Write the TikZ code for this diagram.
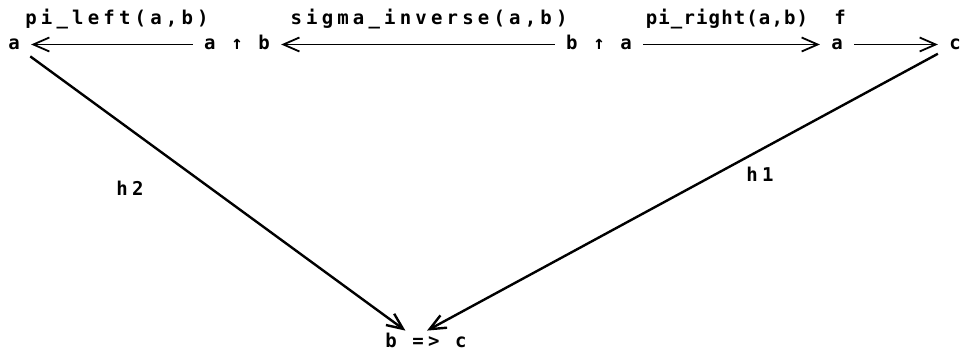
\documentclass[tikz,border=0pt]{standalone}
\usepackage{fontspec}
\setmonofont{DejaVu Sans Mono}[LetterSpace=22]
\usetikzlibrary{arrows.meta}

\begin{document}
\begin{tikzpicture}[x=0.5pt, y=-0.5pt, obj/.style={font=\fontsize{9.5}{11}\ttfamily\bfseries, inner xsep=5.5pt, inner ysep=3pt, text height=5.5pt, text depth=0pt, anchor=base}, lbl/.style={font=\fontsize{9.5}{11}\ttfamily\bfseries, inner sep=0pt, anchor=base}, mor/.style={-{Straight Barb[length=8pt,width=7pt,line width=0.9pt]}, line width=0.7pt}, diag/.style={-{Straight Barb[length=8pt,width=7pt]}, line width=1.2pt}]
\useasboundingbox (0,0) rectangle (970,352);
% objects
\node[obj] (aL) at (14,50) {a};
\node[obj] (aub) at (237,50) {a ↑ b};
\node[obj] (bua) at (599,50) {b ↑ a};
\node[obj] (aR) at (837,50) {a};
\node[obj] (cR) at (955,50) {c};
\node[obj] (bc) at (426,348) {b => c};
% labels
\node[lbl] (piL) at (117,25) {pi\_left(a,b)};
\node[lbl] (sigInv) at (429,25) {sigma\_inverse(a,b)};
\node[lbl] (piR) at (727,25) {\addfontfeature{LetterSpace=6}pi\_right(a,b)};
\node[lbl] (fL) at (840,25) {f};
\node[lbl] (hTwo) at (130,196) {h2};
\node[lbl] (hOne) at (760,182) {h1};
% arrows
\draw[mor] (aub) -- (aL);
\draw[mor] (bua) -- (aub);
\draw[mor] (bua) -- (aR);
\draw[mor] (aR) -- (cR);
\draw[diag] (aL) -- (bc.150);
\draw[diag] (cR) -- (bc.85);
\end{tikzpicture}
\end{document}
